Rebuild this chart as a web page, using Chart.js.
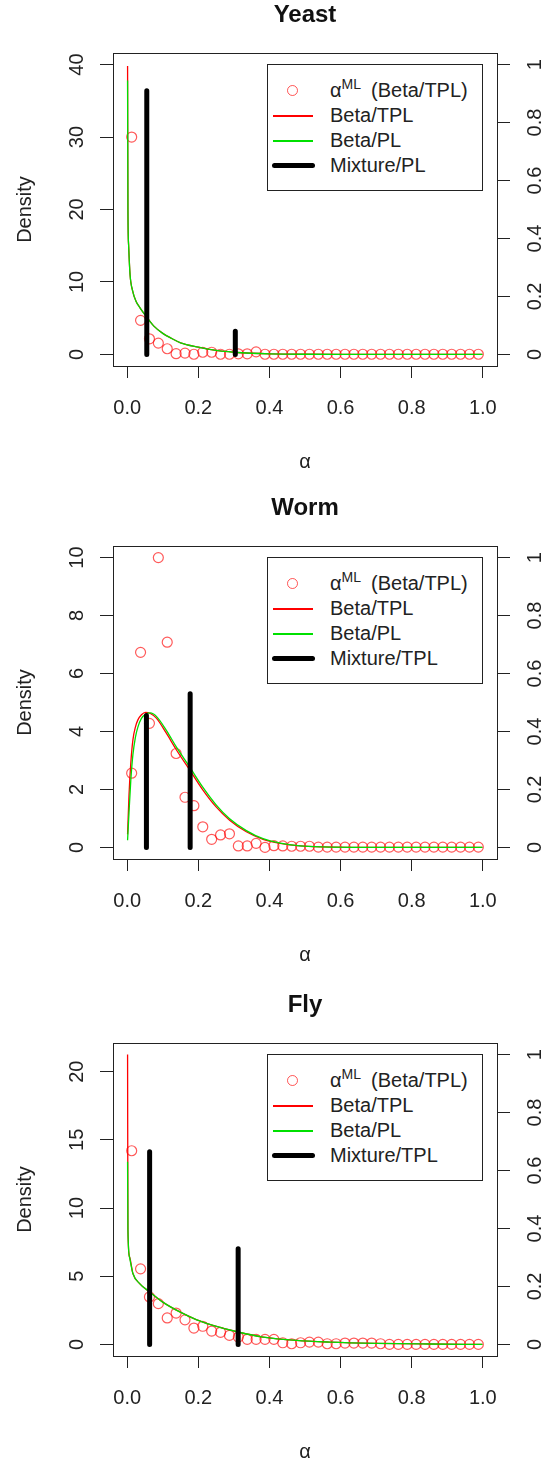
<!DOCTYPE html>
<html>
<head>
<meta charset="utf-8">
<script src="https://cdn.jsdelivr.net/npm/chart.js@4.4.1/dist/chart.umd.min.js"></script>
<style>
  html, body { margin: 0; padding: 0; background: #fff; overflow: hidden; }
  body { width: 541px; height: 1459px; position: relative; font-family: 'Liberation Sans', Arial, sans-serif; }
  .panel { position: absolute; left: 0; width: 541px; height: 500px; }
  .panel canvas { position: absolute; left: 0; top: 0; }
  .legend { position: absolute; left: 267px; width: 216px; height: 127px; border: 1px solid #222;
            box-sizing: border-box; padding-top: 13px; background: #fff; }
  .row { position: relative; height: 25px; line-height: 25px; font-size: 20px; color: #222; }
  .row .txt { position: absolute; left: 62px; top: 0; white-space: nowrap; }
  .row sup { font-size: 14px; vertical-align: baseline; position: relative; top: -8px; }
  .key { position: absolute; }
  .circ { left: 19px; top: 7px; width: 11px; height: 11px; box-sizing: border-box;
          border: 1.2px solid rgba(255,0,0,0.65); border-radius: 50%; }
  .ln { left: 5px; width: 40px; top: 12px; height: 2px; }
  .thick { left: 4px; width: 43px; top: 10px; height: 5px; border-radius: 2.5px; background: #000; }
</style>
</head>
<body>
<script>
// bin midpoints of the alpha histogram (x of the circles)
const binMids = [0.0125, 0.0375, 0.0625, 0.0875, 0.1125, 0.1375, 0.1625, 0.1875, 0.2125, 0.2375,
                 0.2625, 0.2875, 0.3125, 0.3375, 0.3625, 0.3875, 0.4125, 0.4375, 0.4625, 0.4875,
                 0.5125, 0.5375, 0.5625, 0.5875, 0.6125, 0.6375, 0.6625, 0.6875, 0.7125, 0.7375,
                 0.7625, 0.7875, 0.8125, 0.8375, 0.8625, 0.8875, 0.9125, 0.9375, 0.9625, 0.9875];

// Yeast
const yeastML = [30.0, 4.7, 2.15, 1.56, 0.78, 0.1, 0.18, 0.02, 0.3, 0.3,
                 0.02, 0.02, 0.08, 0.08, 0.35, 0.02, 0.02, 0.02, 0.02, 0.02,
                 0.02, 0.02, 0.02, 0.02, 0.02, 0.02, 0.02, 0.02, 0.02, 0.02,
                 0.02, 0.02, 0.02, 0.02, 0.02, 0.02, 0.02, 0.02, 0.02, 0.02];
const yeastCurveX = [0.001, 0.002, 0.004, 0.008, 0.015, 0.025, 0.035, 0.054, 0.075, 0.1,
                     0.125, 0.15, 0.2, 0.25, 0.3, 0.35, 0.4, 0.5, 0.6, 0.8, 0.999];
const yeastTPL = [39.8, 20, 15, 11.0, 8.8, 7.3, 6.5, 5.2, 3.9, 2.9,
                  2.2, 1.6, 1.0, 0.55, 0.3, 0.16, 0.08, 0.02, 0.005, 0, 0];
const yeastPL  = [37.8, 20, 15, 11.0, 8.8, 7.3, 6.5, 5.2, 3.9, 2.9,
                  2.2, 1.6, 1.0, 0.55, 0.3, 0.16, 0.08, 0.02, 0.005, 0, 0];
const yeastMixLoc = [0.055, 0.304];
const yeastMixW = [0.91, 0.08];

// Worm
const wormML = [2.56, 6.73, 4.28, 10.0, 7.08, 3.24, 1.73, 1.44, 0.71, 0.28,
                0.43, 0.47, 0.05, 0.05, 0.14, 0.0, 0.06, 0.05, 0.04, 0.04,
                0.04, 0.01, 0.01, 0.01, 0.01, 0.01, 0.01, 0.01, 0.01, 0.01,
                0.01, 0.01, 0.01, 0.01, 0.01, 0.01, 0.01, 0.01, 0.01, 0.01];
const wormCurveX = [0.001, 0.005, 0.01, 0.016, 0.023, 0.03, 0.04, 0.052, 0.065, 0.082,
                    0.11, 0.138, 0.176, 0.213, 0.25, 0.288, 0.335, 0.382, 0.43, 0.486,
                    0.55, 0.65, 0.8, 0.999];
const wormTPL = [0.45, 1.8, 2.9, 3.71, 4.15, 4.4, 4.58, 4.66, 4.62, 4.46,
                 3.94, 3.37, 2.67, 1.98, 1.4, 0.94, 0.54, 0.28, 0.14, 0.05,
                 0.015, 0.003, 0, 0];
const wormPL  = [0.25, 1.2, 2.3, 3.2, 3.8, 4.15, 4.45, 4.6, 4.64, 4.52,
                 4.04, 3.47, 2.77, 2.07, 1.47, 0.99, 0.58, 0.3, 0.15, 0.055,
                 0.017, 0.003, 0, 0];
const wormMixLoc = [0.054, 0.177];
const wormMixW = [0.455, 0.53];

// Fly
const flyML = [14.2, 5.54, 3.48, 2.99, 1.94, 2.3, 1.8, 1.2, 1.33, 0.98,
               0.88, 0.66, 0.54, 0.37, 0.37, 0.37, 0.37, 0.12, 0.05, 0.12,
               0.17, 0.17, 0.05, 0.05, 0.1, 0.1, 0.1, 0.1, 0.05, 0.0,
               0.0, 0.0, 0.0, 0.0, 0.0, 0.0, 0.0, 0.0, 0.0, 0.0];
const flyCurveX = [0.001, 0.002, 0.0066, 0.016, 0.035, 0.063, 0.1, 0.148, 0.194, 0.241,
                   0.312, 0.382, 0.476, 0.57, 0.7, 0.85, 0.999];
const flyTPL = [21.25, 8.4, 6.4, 5.2, 4.46, 3.85, 3.1, 2.38, 1.82, 1.4,
                0.91, 0.54, 0.29, 0.17, 0.08, 0.03, 0];
const flyPL  = [13.4, 8.4, 6.4, 5.2, 4.46, 3.85, 3.1, 2.38, 1.82, 1.4,
                0.91, 0.54, 0.29, 0.17, 0.08, 0.03, 0];
const flyMixLoc = [0.063, 0.312];
const flyMixW = [0.665, 0.33];

const panelNames = ['Yeast', 'Worm', 'Fly'];
const densityMax = [40, 10, 21.25];
const densityStep = [10, 2, 5];
const mixtureNames = ['Mixture/PL', 'Mixture/TPL', 'Mixture/TPL'];
const xTicks = [0, 0.2, 0.4, 0.6, 0.8, 1.0];

Chart.defaults.font.family = "'Liberation Sans', Arial, sans-serif";
Chart.defaults.color = '#222';

const areaTop = 53, areaH = 313, canvasH = 500;

const boxPlugin = {
  id: 'box',
  afterDatasetsDraw(chart) {
    const a = chart.chartArea, c = chart.ctx;
    c.save();
    c.strokeStyle = '#222';
    c.lineWidth = 1;
    c.strokeRect(Math.round(a.left) + 0.5, Math.round(a.top) + 0.5, Math.round(a.width), Math.round(a.height));
    c.restore();
  }
};

function tickGrid(len) {
  return { drawOnChartArea: false, drawTicks: true, tickLength: len, color: '#222', lineWidth: 1 };
}

function makePanel(i, top, ml, cx, tpl, pl, mixLoc, mixW) {
  const wrap = document.createElement('div');
  wrap.className = 'panel';
  wrap.style.top = top + 'px';
  const canvas = document.createElement('canvas');
  canvas.width = 541;
  canvas.height = canvasH;
  canvas.style.width = '541px';
  canvas.style.height = canvasH + 'px';
  wrap.appendChild(canvas);

  const leg = document.createElement('div');
  leg.className = 'legend';
  leg.style.top = (areaTop + 11) + 'px';
  leg.innerHTML =
    '<div class="row"><span class="key circ"></span><span class="txt">α<sup>ML</sup><span style="margin-left:10px">(Beta/TPL)</span></span></div>' +
    '<div class="row"><span class="key ln" style="background:#ff0000"></span><span class="txt">Beta/TPL</span></div>' +
    '<div class="row"><span class="key ln" style="background:#00e000"></span><span class="txt">Beta/PL</span></div>' +
    '<div class="row"><span class="key thick"></span><span class="txt">' + mixtureNames[i] + '</span></div>';
  wrap.appendChild(leg);
  document.body.appendChild(wrap);

  const M = densityMax[i];
  const mixData = [];
  mixLoc.forEach((x, k) => {
    mixData.push({ x, y: 0 }, { x, y: mixW[k] }, { x, y: null });
  });

  new Chart(canvas.getContext('2d'), {
    type: 'scatter',
    data: {
      datasets: [
        {
          label: 'alphaML',
          data: binMids.map((x, k) => ({ x, y: ml[k] })),
          yAxisID: 'y',
          showLine: false,
          pointRadius: 5,
          pointBorderWidth: 1.2,
          pointBorderColor: 'rgba(255,0,0,0.65)',
          pointBackgroundColor: 'rgba(0,0,0,0)',
          order: 4
        },
        {
          label: 'Beta/TPL',
          data: cx.map((x, k) => ({ x, y: tpl[k] })),
          yAxisID: 'y',
          showLine: true,
          borderColor: '#ff0000',
          borderWidth: 1.3,
          pointRadius: 0,
          cubicInterpolationMode: 'monotone',
          order: 3
        },
        {
          label: 'Beta/PL',
          data: cx.map((x, k) => ({ x, y: pl[k] })),
          yAxisID: 'y',
          showLine: true,
          borderColor: '#00e000',
          borderWidth: 1.3,
          pointRadius: 0,
          cubicInterpolationMode: 'monotone',
          order: 2
        },
        {
          label: mixtureNames[i],
          data: mixData,
          yAxisID: 'y2',
          showLine: true,
          spanGaps: false,
          borderColor: '#000',
          borderWidth: 5,
          borderCapStyle: 'round',
          pointRadius: 0,
          order: 1
        }
      ]
    },
    options: {
      responsive: false,
      animation: false,
      devicePixelRatio: 1,
      layout: { padding: 0 },
      plugins: {
        legend: { display: false },
        tooltip: { enabled: false },
        title: {
          display: true,
          text: panelNames[i],
          fullSize: false,
          color: '#111',
          font: { size: 24, weight: 'bold' },
          padding: { top: 1, bottom: 23.2 }
        }
      },
      scales: {
        x: {
          type: 'linear',
          position: 'bottom',
          min: -0.04,
          max: 1.04,
          afterFit: s => { s.height = canvasH - areaTop - areaH; },
          afterBuildTicks: s => { s.ticks = xTicks.map(v => ({ value: v })); },
          border: { display: false },
          grid: tickGrid(12),
          ticks: {
            autoSkip: false, maxRotation: 0, padding: 18, color: '#222',
            font: { size: 20 },
            callback: v => Number(v).toFixed(1)
          },
          title: { display: true, text: 'α', color: '#222', font: { size: 20 }, padding: { top: 0, bottom: 26 } }
        },
        y: {
          type: 'linear',
          position: 'left',
          min: -0.04 * M,
          max: 1.04 * M,
          afterFit: s => { s.width = 113; },
          border: { display: false },
          grid: tickGrid(13),
          ticks: {
            stepSize: densityStep[i], includeBounds: false,
            minRotation: 90, maxRotation: 90, crossAlign: 'center', padding: 11,
            color: '#222', font: { size: 20 },
            callback: v => String(v)
          },
          title: { display: true, text: 'Density', color: '#222', font: { size: 20 }, padding: { top: 13, bottom: 0 } }
        },
        y2: {
          type: 'linear',
          position: 'right',
          min: -0.04,
          max: 1.04,
          afterFit: s => { s.width = 44; },
          border: { display: false },
          grid: tickGrid(13),
          ticks: {
            stepSize: 0.2, includeBounds: false,
            minRotation: 90, maxRotation: 90, crossAlign: 'center', padding: 12,
            color: '#222', font: { size: 20 },
            callback: v => String(Number(Number(v).toFixed(1)))
          }
        }
      }
    },
    plugins: [boxPlugin]
  });
}

makePanel(0, 0, yeastML, yeastCurveX, yeastTPL, yeastPL, yeastMixLoc, yeastMixW);
makePanel(1, 493, wormML, wormCurveX, wormTPL, wormPL, wormMixLoc, wormMixW);
makePanel(2, 990, flyML, flyCurveX, flyTPL, flyPL, flyMixLoc, flyMixW);
</script>
</body>
</html>
